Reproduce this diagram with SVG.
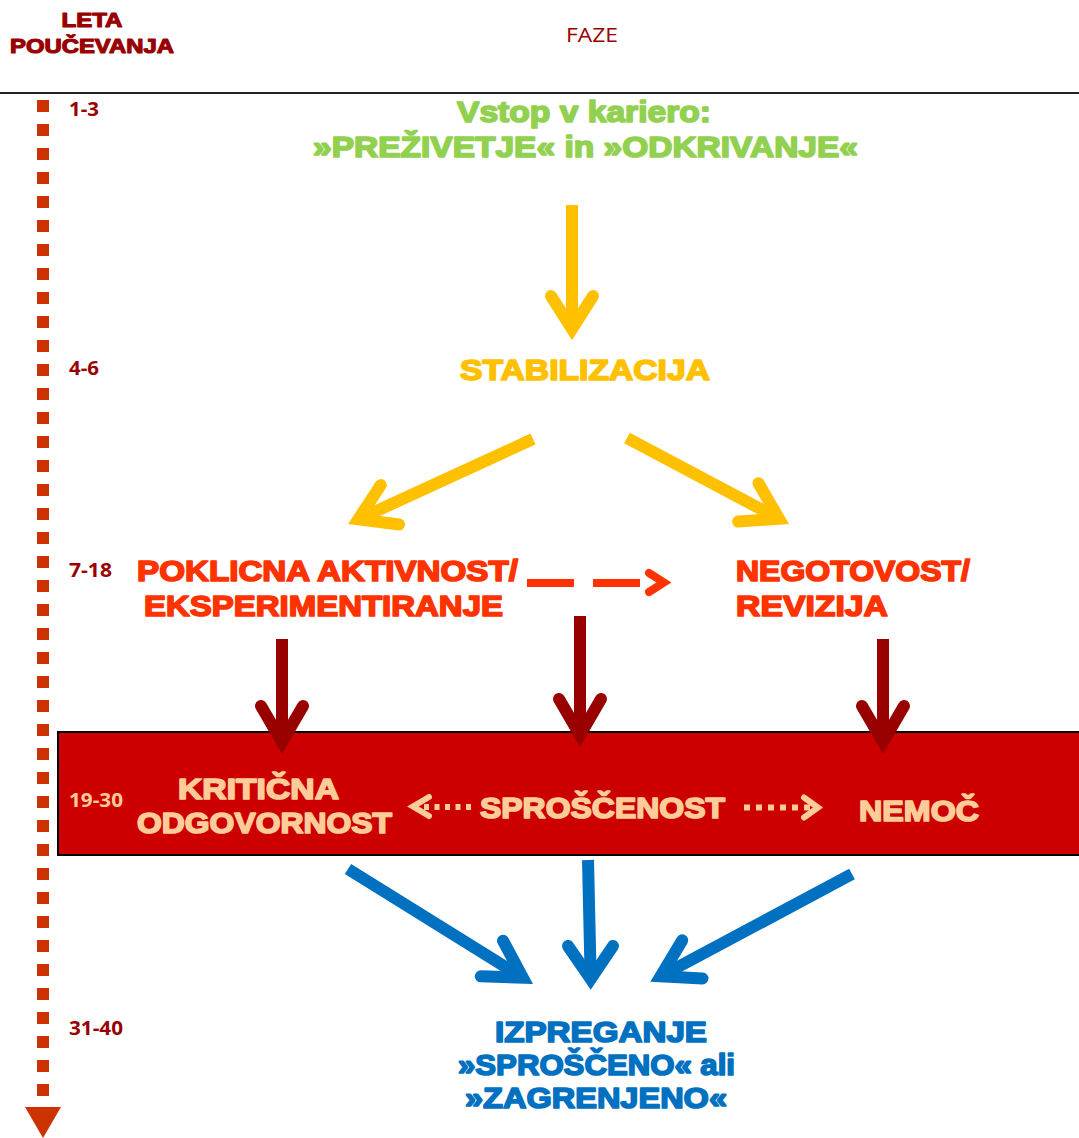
<svg xmlns="http://www.w3.org/2000/svg" width="1079" height="1138" viewBox="0 0 1079 1138">
<style>
.h{font-family:"Liberation Sans",Arial,sans-serif;font-weight:bold;font-size:30px;stroke-width:1.7px;stroke-linejoin:round}
.yr{font-family:"Open Sans","Liberation Sans",sans-serif;font-weight:bold;font-size:19px;fill:#990000}
.g{fill:#92D050;stroke:#92D050}
.y{fill:#FFC000;stroke:#FFC000}
.o{fill:#FF3300;stroke:#FF3300}
.p{fill:#FFCC99;stroke:#FFCC99}
.b{fill:#0070C0;stroke:#0070C0}
.dr{fill:#990000;stroke:#990000}
.shaft{fill:none;stroke-width:12;stroke-linecap:butt}
.head{fill:none;stroke-width:12;stroke-linecap:round;stroke-linejoin:miter;stroke-miterlimit:10}
.ys{stroke:#FFC000}.bs{stroke:#0070C0}.ds{stroke:#990000}
</style>
<rect width="1079" height="1138" fill="#fff"/>
<g id="header">
<text class="h dr" x="92" y="27" text-anchor="middle" textLength="61" lengthAdjust="spacingAndGlyphs" style="font-size:21px;stroke-width:1.2px">LETA</text>
<text class="h dr" x="92" y="53" text-anchor="middle" textLength="164" lengthAdjust="spacingAndGlyphs" style="font-size:21px;stroke-width:1.2px">POUČEVANJA</text>
<text x="592" y="42" text-anchor="middle" font-family="Open Sans, Liberation Sans, sans-serif" font-size="20" fill="#990000" textLength="52" lengthAdjust="spacingAndGlyphs">FAZE</text>
<line x1="0" y1="93" x2="1079" y2="93" stroke="#222" stroke-width="2"/>
</g>
<g id="timeline">
<line x1="43" y1="100" x2="43" y2="1096" stroke="#CC3300" stroke-width="12" stroke-dasharray="12 12"/>
<polygon points="25,1107 61,1107 43,1138" fill="#CC3300"/>
<text class="yr" x="69" y="116" textLength="30" lengthAdjust="spacingAndGlyphs">1-3</text>
<text class="yr" x="69" y="375" textLength="30" lengthAdjust="spacingAndGlyphs">4-6</text>
<text class="yr" x="69" y="577" textLength="43" lengthAdjust="spacingAndGlyphs">7-18</text>
<text class="yr" x="69" y="1035" textLength="54" lengthAdjust="spacingAndGlyphs">31-40</text>
</g>
<g id="band">
<rect x="58" y="732" width="1040" height="123" fill="#CC0000" stroke="#000" stroke-width="2"/>
<text class="yr" x="69" y="807" textLength="54" lengthAdjust="spacingAndGlyphs" style="fill:#FFCC99">19-30</text>
</g>
<g id="n-vstop">
<text class="h g" x="584" y="122" text-anchor="middle" textLength="254" lengthAdjust="spacingAndGlyphs">Vstop v kariero:</text>
<text class="h g" x="585.5" y="157" text-anchor="middle" textLength="545" lengthAdjust="spacingAndGlyphs">»PREŽIVETJE« in »ODKRIVANJE«</text>
</g>
<g id="n-stabilizacija">
<text class="h y" x="585" y="380" text-anchor="middle" textLength="250" lengthAdjust="spacingAndGlyphs">STABILIZACIJA</text>
</g>
<g id="n-poklicna">
<text class="h o" x="137" y="581" textLength="381" lengthAdjust="spacingAndGlyphs">POKLICNA AKTIVNOST/</text>
<text class="h o" x="144" y="616" textLength="359" lengthAdjust="spacingAndGlyphs">EKSPERIMENTIRANJE</text>
</g>
<g id="n-negotovost">
<text class="h o" x="736" y="581" textLength="234" lengthAdjust="spacingAndGlyphs">NEGOTOVOST/</text>
<text class="h o" x="736" y="616" textLength="152" lengthAdjust="spacingAndGlyphs">REVIZIJA</text>
</g>
<g id="n-kriticna">
<text class="h p" x="178" y="799" textLength="161" lengthAdjust="spacingAndGlyphs">KRITIČNA</text>
<text class="h p" x="137" y="833" textLength="255" lengthAdjust="spacingAndGlyphs">ODGOVORNOST</text>
</g>
<g id="n-sproscenost">
<text class="h p" x="480" y="818" textLength="245" lengthAdjust="spacingAndGlyphs">SPROŠČENOST</text>
</g>
<g id="n-nemoc">
<text class="h p" x="859" y="821" textLength="120" lengthAdjust="spacingAndGlyphs">NEMOČ</text>
</g>
<g id="n-izpreganje">
<text class="h b" x="495" y="1042" textLength="212" lengthAdjust="spacingAndGlyphs">IZPREGANJE</text>
<text class="h b" x="458" y="1075" textLength="277" lengthAdjust="spacingAndGlyphs">»SPROŠČENO« ali</text>
<text class="h b" x="465" y="1108" textLength="262" lengthAdjust="spacingAndGlyphs">»ZAGRENJENO«</text>
</g>
<g id="connectors">
<line class="shaft ys" x1="572" y1="205" x2="572" y2="330"/>
<polyline class="head ys" points="551,296 572,329 593,296"/>
<line class="shaft ys" x1="533" y1="439" x2="358.3" y2="519.3"/>
<polyline class="head ys" points="380.8,485 358.3,519.3 399,524.5"/>
<line class="shaft ys" x1="627" y1="438" x2="779" y2="518.7"/>
<polyline class="head ys" points="758.5,483.2 779,518.7 738.1,521.6"/>
<line x1="527" y1="583" x2="574" y2="583" stroke="#FF3300" stroke-width="8"/>
<line x1="593" y1="583" x2="640" y2="583" stroke="#FF3300" stroke-width="8"/>
<polyline points="649,573 664,582.5 649,592" fill="none" stroke="#FF3300" stroke-width="8" stroke-linecap="round" stroke-linejoin="miter"/>
<line class="shaft ds" x1="282" y1="639" x2="282" y2="742"/>
<polyline class="head ds" points="261,706 282,742 303,706"/>
<line class="shaft ds" x1="580" y1="616" x2="580" y2="735"/>
<polyline class="head ds" points="559,699 580,735 601,699"/>
<line class="shaft ds" x1="883" y1="639" x2="883" y2="742"/>
<polyline class="head ds" points="862,706 883,742 904,706"/>
<line x1="471" y1="807" x2="418" y2="807" stroke="#FFCC99" stroke-width="6" stroke-dasharray="5 5.5"/>
<polyline points="429,797 413,806.5 429,816" fill="none" stroke="#FFCC99" stroke-width="6" stroke-linecap="round" stroke-linejoin="miter"/>
<line x1="744" y1="807.5" x2="812" y2="807.5" stroke="#FFCC99" stroke-width="6" stroke-dasharray="6 6"/>
<polyline points="804,797.5 818,807.5 804,817.5" fill="none" stroke="#FFCC99" stroke-width="6" stroke-linecap="round" stroke-linejoin="miter"/>
<line class="shaft bs" x1="348" y1="869" x2="522.8" y2="977.7"/>
<polyline class="head bs" points="503,940.7 522.8,977.7 480.8,976.3"/>
<line class="shaft bs" x1="588" y1="860" x2="590.7" y2="979"/>
<polyline class="head bs" points="568,946 590.7,979 613,946"/>
<line class="shaft bs" x1="852" y1="874" x2="660.6" y2="976.3"/>
<polyline class="head bs" points="682.2,940.3 660.6,976.3 702.5,978.4"/>
</g>
</svg>
